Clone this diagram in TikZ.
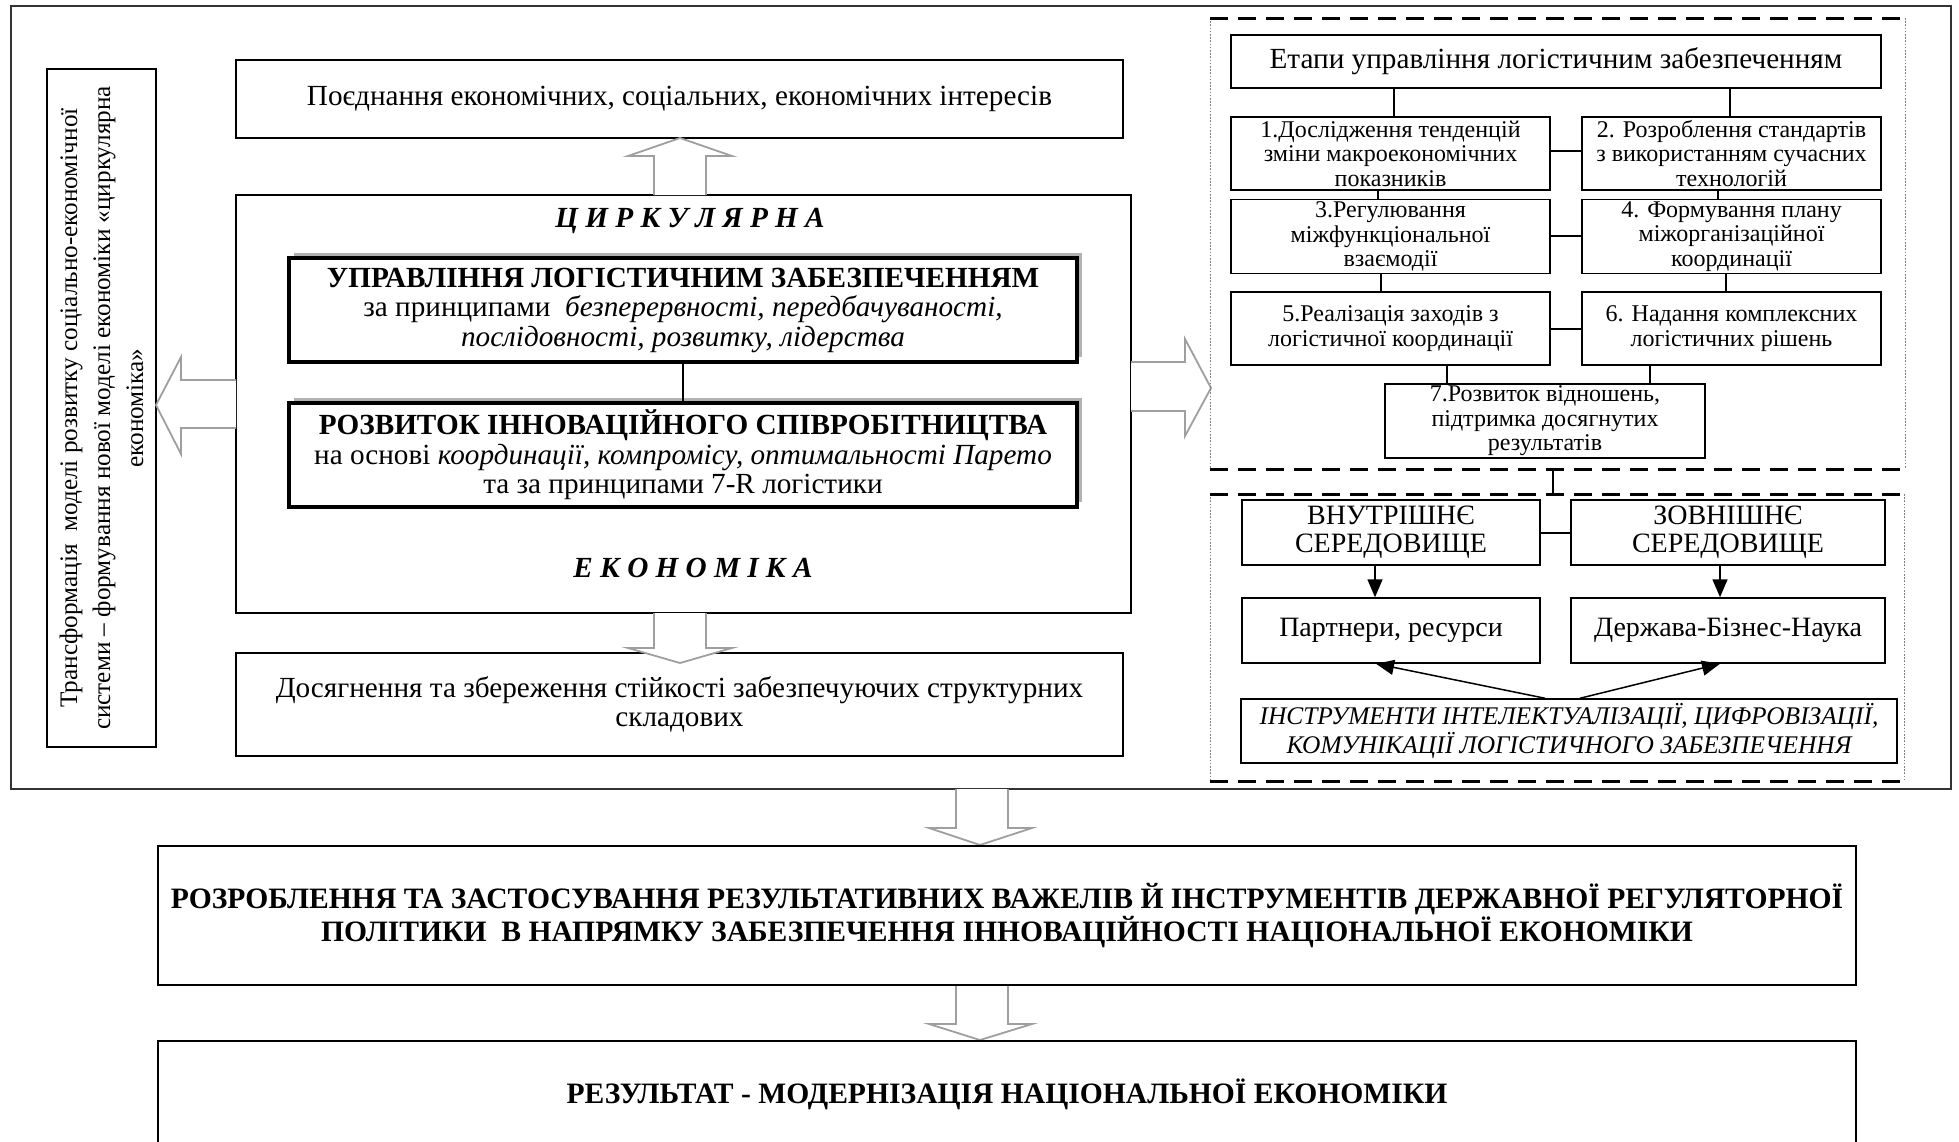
\documentclass[tikz,border=0pt]{standalone}
\usepackage{fontspec}
\setmainfont{Liberation Serif}
\usetikzlibrary{arrows.meta}
\newcommand\bx[7]{\node[#6, minimum width={(#4-#2)*0.5pt}, minimum height={(#5-#3)*0.5pt}] (#1) at ({(#2+#4)/2},{(#3+#5)/2}) {#7};}
\begin{document}
\begin{tikzpicture}[x=0.5pt,y=-0.5pt,
  box/.style={draw, line width=0.75pt, inner sep=1pt, align=center, fill=white, font=\fontsize{14.6}{14.75}\selectfont},
  thickbox/.style={box, line width=1.6pt},
  sbox/.style={box, font=\fontsize{12}{12.25}\selectfont},
  mbox/.style={box, font=\fontsize{14}{14}\selectfont},
  ebox/.style={box, font=\fontsize{14.6}{14.6}\selectfont},
  ibox/.style={box, font=\fontsize{12.7}{11.5}\selectfont\itshape},
  bigbox/.style={box, font=\fontsize{14.8}{16.5}\selectfont\bfseries},
  conn/.style={line width=0.6pt},
  tarr/.style={line width=0.75pt, -{Triangle[length=9pt,width=7.5pt]}},
  blockarr/.style={draw=gray!75, line width=0.9pt, fill=white, line join=miter},
  dashedge/.style={line width=1.5pt, dash pattern=on 9pt off 5pt},
  dotedge/.style={line width=0.4pt, gray, dash pattern=on 0.8pt off 0.8pt},
  caption/.style={font=\fontsize{14.6}{14.6}\selectfont\bfseries\itshape}
]
\useasboundingbox (0,0) rectangle (1959,1141);
% outer frame
\draw[line width=1.1pt, black!80] (11,6) rectangle (1951,789);
% left rotated box
\bx{left}{47}{69}{156}{747}{box}{}
\node[rotate=90, align=center, font=\fontsize{12.6}{16.5}\selectfont] (lefttxt) at (left.center) {Трансформація\ \ моделі розвитку соціально-економічної\\системи – формування нової моделі економіки «циркулярна\\економіка»};
% top and bottom boxes
\bx{top}{236}{60}{1123}{138}{box}{Поєднання економічних, соціальних, економічних інтересів}
\bx{bottom}{236}{653}{1123}{756}{box}{Досягнення та збереження стійкості забезпечуючих структурних\\складових}
% central box
\bx{central}{236}{195}{1131}{613}{box}{}
\node[caption] (circ) at (690,221) {Ц И Р К У Л Я Р Н А};
\node[caption] (econ) at (693,568) {Е К О Н О М І К А};
% inner boxes with shadow
\fill[gray!60] (294,253) rectangle (1082,357);
\fill[gray!60] (294,398) rectangle (1082,502);
\bx{inA}{289}{258}{1077}{362}{thickbox}{{\bfseries УПРАВЛІННЯ ЛОГІСТИЧНИМ ЗАБЕЗПЕЧЕННЯМ}\\за принципами\ \ \textit{безперервності, передбачуваності,}\\\textit{послідовності, розвитку, лідерства}}
\bx{inB}{289}{403}{1077}{507}{thickbox}{{\bfseries РОЗВИТОК ІННОВАЦІЙНОГО СПІВРОБІТНИЦТВА}\\на основі \textit{координації, компромісу, оптимальності Парето}\\та за принципами 7-R логістики}
\draw[conn] (inA) -- (inB);
% block arrows
\draw[blockarr] (654,195) -- (654,156) -- (628,156) -- (680,138) -- (732,156) -- (706,156) -- (706,195);
\draw[blockarr] (654,613) -- (654,648) -- (628,648) -- (680,663) -- (732,648) -- (706,648) -- (706,613);
\draw[blockarr] (236,380) -- (181,380) -- (181,357) -- (156,405) -- (181,454) -- (181,428) -- (236,428);
\draw[blockarr] (1131,362) -- (1185,362) -- (1185,339) -- (1211,388) -- (1185,436) -- (1185,411) -- (1131,411);
\draw[blockarr] (956,789) -- (956,828) -- (929,828) -- (980,845) -- (1032,828) -- (1008,828) -- (1008,789);
\draw[blockarr] (956,985) -- (956,1024) -- (929,1024) -- (980,1040) -- (1032,1024) -- (1008,1024) -- (1008,985);
% right dashed box 1
\draw[dotedge] (1210,18) -- (1210,469) (1905,18) -- (1905,469);
\draw[dashedge] (1210,18) -- (1905,18) (1210,469) -- (1905,469);
\bx{etapy}{1231}{35}{1881}{88}{ebox}{Етапи управління логістичним забезпеченням}
\bx{s1}{1231}{117}{1550}{190}{sbox}{1.Дослідження тенденцій\\зміни макроекономічних\\показників}
\bx{s2}{1582}{117}{1881}{190}{sbox}{2. Розроблення стандартів\\з використанням сучасних\\технологій}
\bx{s3}{1231}{200}{1550}{273}{sbox}{3.Регулювання\\міжфункціональної\\взаємодії}
\bx{s4}{1582}{200}{1881}{273}{sbox}{4. Формування плану\\міжорганізаційної\\координації}
\bx{s5}{1231}{292}{1550}{365}{sbox}{5.Реалізація заходів з\\логістичної координації}
\bx{s6}{1582}{292}{1881}{365}{sbox}{6. Надання комплексних\\логістичних рішень}
\bx{s7}{1385}{385}{1705}{457}{sbox}{7.Розвиток відношень,\\підтримка досягнутих\\результатів}
\draw[conn] (etapy.south -| 1394,0) -- (s1.north -| 1394,0);
\draw[conn] (etapy.south -| 1730,0) -- (s2.north -| 1730,0);
\draw[conn] (s1.east |- 0,151) -- (s2.west |- 0,151);
\draw[conn] (s1.south -| 1378,0) -- (s3.north -| 1378,0);
\draw[conn] (s2.south -| 1718,0) -- (s4.north -| 1718,0);
\draw[conn] (s3.east |- 0,236) -- (s4.west |- 0,236);
\draw[conn] (s3.south -| 1381,0) -- (s5.north -| 1381,0);
\draw[conn] (s4.south -| 1726,0) -- (s6.north -| 1726,0);
\draw[conn] (s5.east |- 0,329) -- (s6.west |- 0,329);
\draw[conn] (s5.south -| 1447,0) -- (s7.north -| 1447,0);
\draw[conn] (s6.south -| 1650,0) -- (s7.north -| 1650,0);
% link between dashed boxes
\coordinate (d1) at (1553,469);
\coordinate (d2) at (1553,494);
\draw[conn] (d1) -- (d2);
% right dashed box 2
\draw[dotedge] (1210,494) -- (1210,781) (1904,494) -- (1904,781);
\draw[dashedge] (1210,494) -- (1904,494) (1210,781) -- (1904,781);
\bx{vn}{1242}{500}{1540}{565}{mbox}{ВНУТРІШНЄ\\СЕРЕДОВИЩЕ}
\bx{zv}{1571}{500}{1885}{565}{mbox}{ЗОВНІШНЄ\\СЕРЕДОВИЩЕ}
\bx{pa}{1242}{598}{1540}{663}{mbox}{Партнери, ресурси}
\bx{de}{1571}{598}{1885}{663}{mbox}{Держава-Бізнес-Наука}
\bx{ins}{1241}{699}{1897}{763}{ibox}{ІНСТРУМЕНТИ ІНТЕЛЕКТУАЛІЗАЦІЇ, ЦИФРОВІЗАЦІЇ,\\КОМУНІКАЦІЇ ЛОГІСТИЧНОГО ЗАБЕЗПЕЧЕННЯ}
\draw[conn] (vn.east |- 0,533) -- (zv.west |- 0,533);
\draw[tarr] (vn.south -| 1375,0) -- (pa.north -| 1375,0);
\draw[tarr] (zv.south -| 1720,0) -- (de.north -| 1720,0);
\draw[tarr] (ins.north -| 1545,0) -- (pa.south -| 1376,0);
\draw[tarr] (ins.north -| 1580,0) -- (de.south -| 1720,0);
% bottom boxes
\bx{big1}{158}{846}{1856}{985}{bigbox}{РОЗРОБЛЕННЯ ТА ЗАСТОСУВАННЯ РЕЗУЛЬТАТИВНИХ ВАЖЕЛІВ Й ІНСТРУМЕНТІВ ДЕРЖАВНОЇ РЕГУЛЯТОРНОЇ\\ПОЛІТИКИ\ \ В НАПРЯМКУ ЗАБЕЗПЕЧЕННЯ ІННОВАЦІЙНОСТІ НАЦІОНАЛЬНОЇ ЕКОНОМІКИ}
\bx{big2}{158}{1041}{1856}{1147}{bigbox}{РЕЗУЛЬТАТ - МОДЕРНІЗАЦІЯ НАЦІОНАЛЬНОЇ ЕКОНОМІКИ}
\end{tikzpicture}
\end{document}
